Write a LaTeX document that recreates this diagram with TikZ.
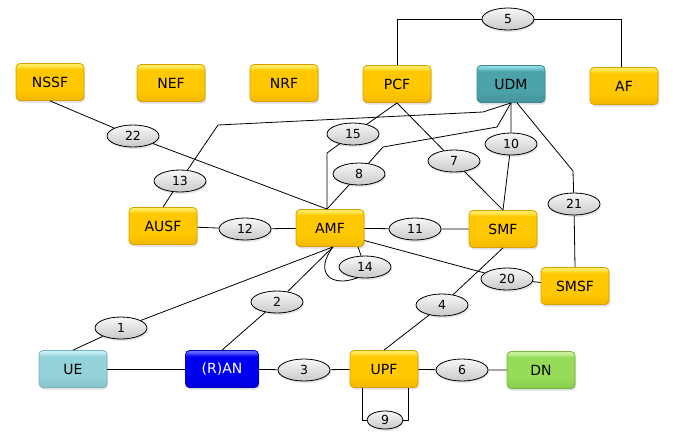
\documentclass[tikz,border=0pt]{standalone}
\usepackage{fontspec}
\setmainfont{DejaVu Sans}
\usetikzlibrary{shadows,shapes.geometric}

\definecolor{nfbase}{HTML}{FFC800}
\definecolor{nfhi}{HTML}{FFEC60}
\definecolor{nflow}{HTML}{F2B800}
\definecolor{nfline}{HTML}{D9A000}
\definecolor{udmbase}{HTML}{4BA3A9}
\definecolor{udmhi}{HTML}{8ADCE2}
\definecolor{udmlow}{HTML}{42949A}
\definecolor{udmline}{HTML}{3C8A90}
\definecolor{uebase}{HTML}{94D2DA}
\definecolor{uehi}{HTML}{C4F0F4}
\definecolor{uelow}{HTML}{88C4CC}
\definecolor{ueline}{HTML}{78B4BC}
\definecolor{ranbase}{HTML}{0000F0}
\definecolor{ranhi}{HTML}{6464FF}
\definecolor{ranlow}{HTML}{0000DC}
\definecolor{ranline}{HTML}{0000B4}
\definecolor{dnbase}{HTML}{96DC58}
\definecolor{dnhi}{HTML}{C8F2A0}
\definecolor{dnlow}{HTML}{88CC4C}
\definecolor{dnline}{HTML}{78B440}

\pgfdeclareverticalshading{nfshade}{100bp}{color(0bp)=(nflow); color(25bp)=(nflow);
  color(40bp)=(nfbase); color(67bp)=(nfbase); color(73bp)=(nfhi); color(100bp)=(nfhi)}
\pgfdeclareverticalshading{udmshade}{100bp}{color(0bp)=(udmlow); color(25bp)=(udmlow);
  color(40bp)=(udmbase); color(67bp)=(udmbase); color(73bp)=(udmhi); color(100bp)=(udmhi)}
\pgfdeclareverticalshading{ueshade}{100bp}{color(0bp)=(uelow); color(25bp)=(uelow);
  color(40bp)=(uebase); color(67bp)=(uebase); color(73bp)=(uehi); color(100bp)=(uehi)}
\pgfdeclareverticalshading{ranshade}{100bp}{color(0bp)=(ranlow); color(25bp)=(ranlow);
  color(40bp)=(ranbase); color(67bp)=(ranbase); color(73bp)=(ranhi); color(100bp)=(ranhi)}
\pgfdeclareverticalshading{dnshade}{100bp}{color(0bp)=(dnlow); color(25bp)=(dnlow);
  color(40bp)=(dnbase); color(67bp)=(dnbase); color(73bp)=(dnhi); color(100bp)=(dnhi)}

\tikzset{
  nf/.style={draw=nfline, rounded corners=4pt, inner sep=0pt,
    minimum width=68pt, minimum height=37pt, shading=nfshade,
    drop shadow={shadow xshift=1pt, shadow yshift=-2pt, opacity=0.25},
    font=\fontsize{14}{16}\selectfont},
  udmnf/.style={draw=udmline, shading=udmshade},
  uenf/.style={draw=ueline, shading=ueshade},
  rannf/.style={draw=ranline, shading=ranshade, text=white},
  dnnf/.style={draw=dnline, shading=dnshade},
  ref/.style={ellipse, draw, inner sep=0pt, minimum width=52pt, minimum height=22pt,
    top color=gray!6, bottom color=gray!42,
    drop shadow={shadow xshift=1pt, shadow yshift=-2pt, opacity=0.2},
    font=\fontsize{12.5}{14}\selectfont}
}

\begin{document}
\begin{tikzpicture}[x=1pt, y=-1pt, line width=0.8pt]
\useasboundingbox (0,0) rectangle (673,437);

%% network functions
\node[nf] (nssf) at (50,82) {NSSF};
\node[nf] (nef) at (171,83) {NEF};
\node[nf] (nrf) at (284,83) {NRF};
\node[nf] (pcf) at (397,84) {PCF};
\node[nf, udmnf] (udm) at (511,84) {UDM};
\node[nf] (af) at (624,86) {AF};
\node[nf] (ausf) at (163,226) {AUSF};
\node[nf] (amf) at (330,228) {AMF};
\node[nf] (smf) at (503,229) {SMF};
\node[nf] (smsf) at (575,286) {SMSF};
\node[nf, uenf] (ue) at (73,369) {UE};
\node[nf, rannf, minimum width=73pt] (ran) at (222,369) {(R)AN};
\node[nf] (upf) at (384,369) {UPF};
\node[nf, dnnf] (dn) at (541,370) {DN};

%% reference points
\node[ref] (r1) at (121,328) {1};
\node[ref] (r2) at (277,302) {2};
\node[ref] (r3) at (304,370) {3};
\node[ref] (r4) at (442,305) {4};
\node[ref] (r5) at (508,19) {5};
\node[ref] (r6) at (462,370) {6};
\node[ref] (r7) at (454,161) {7};
\node[ref] (r8) at (359,174) {8};
\node[ref, minimum width=36pt, minimum height=18pt] (r9) at (385,420) {9};
\node[ref] (r10) at (511,144) {10};
\node[ref] (r11) at (415,229) {11};
\node[ref] (r12) at (245,229) {12};
\node[ref] (r13) at (180,181) {13};
\node[ref] (r14) at (365,267) {14};
\node[ref] (r15) at (353,134) {15};
\node[ref] (r20) at (507,279) {20};
\node[ref] (r21) at (574,204) {21};
\node[ref] (r22) at (133,136) {22};

\coordinate (amftop) at ([xshift=-3pt]amf.north);
\coordinate (amfbot) at ([xshift=3pt]amf.south);

%% connectors
\draw (pcf.north) |- (r5);                               %% pcf-af
\draw (r5) -| ([xshift=-3pt]af.north);
\draw (ue.north) -- (r1) -- (amfbot);                    %% ue-amf
\draw (ran.north) -- (r2) -- (amfbot);                   %% ran-amf
\draw (ran) -- (r3) -- (upf);                            %% ran-upf
\draw (ue) -- (ran);                                     %% ue-ran
\draw (upf.north) -- (r4) -- (smf.south);                %% upf-smf
\draw (upf) -- (r6) -- (dn);                             %% upf-dn
\draw (pcf.south) -- (r7) -- (smf.north);                %% pcf-smf
\draw (amftop) -- (r8) -- (383,147) -- (497,127) -- (udm.south); %% amf-udm
\draw ([xshift=-22pt]upf.south) |- (r9);                 %% upf-upf
\draw (r9) -| ([xshift=24pt]upf.south);
\draw (udm.south) -- (r10) -- (smf.north);               %% udm-smf
\draw (amf) -- (r11) -- (smf);                           %% amf-smf
\draw (ausf) -- (r12) -- (amf);                          %% ausf-amf
\draw (ausf.north) -- (r13) -- (218,125) -- (483,112) -- (udm.south); %% ausf-udm
\draw ([xshift=28pt]amf.south) -- (r14);                 %% amf-amf
\draw (amfbot) .. controls (314,272) and (330,288) .. (r14.235);
\draw (amftop) -- ++(0,-56) -- (r15) -- (pcf.south);     %% amf-pcf
\draw (amf.-20) -- (r20) -- (smsf);                      %% amf-smsf
\draw ([xshift=6pt]udm.south) -- (573,171) -- (r21) -- (smsf.north); %% udm-smsf
\draw (nssf.south) -- (r22) -- (amftop);                 %% nssf-amf
\end{tikzpicture}
\end{document}
